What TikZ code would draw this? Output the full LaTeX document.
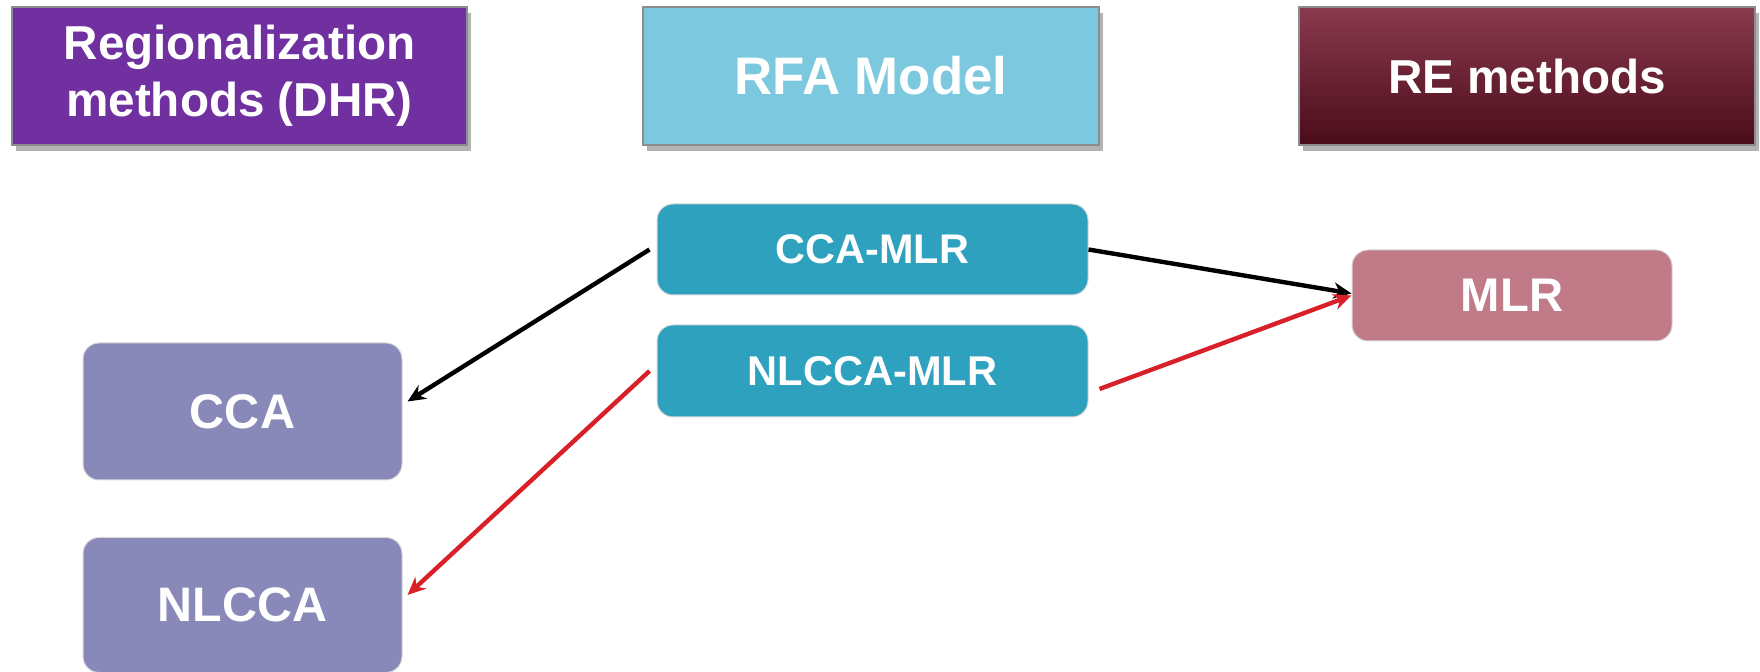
\documentclass[tikz,border=0pt]{standalone}
\usepackage{fontspec}
\setmainfont{Liberation Sans}
\usetikzlibrary{arrows.meta,shadows}
\definecolor{hdrpurple}{HTML}{7030A0}
\definecolor{hdrblue}{HTML}{7BC8DF}
\definecolor{hdrmaroonT}{HTML}{8A3A4E}
\definecolor{hdrmaroonB}{HTML}{4A0C1A}
\definecolor{tealbox}{HTML}{2DA1BE}
\definecolor{rose}{HTML}{C07A88}
\definecolor{lav}{HTML}{8889B8}
\definecolor{arrred}{HTML}{D92029}
\tikzset{
  hdr/.style={rectangle, draw=black!45, line width=0.6pt, text=white, font=\bfseries,
    align=center, minimum width=228pt, minimum height=69pt, inner sep=0pt,
    drop shadow={shadow xshift=2pt, shadow yshift=-3pt, opacity=0.3, fill=black}},
  rbox/.style={rectangle, rounded corners=8pt, draw=black!15, line width=0.5pt, text=white,
    font=\bfseries, align=center, inner sep=0pt},
  blkarr/.style={draw=black, line width=2.2pt, -{Stealth[length=9pt,width=8pt]}},
  redarr/.style={draw=arrred, line width=2.2pt, -{Stealth[length=9pt,width=8pt]}}
}
\begin{document}
\begin{tikzpicture}[x=0.5pt,y=-0.5pt]
\useasboundingbox (0,0) rectangle (1760,672);
% headers
\node[hdr, fill=hdrpurple, minimum width=227.5pt, font=\bfseries\fontsize{23.8}{28.5}\selectfont] (dhr) at (239.5,76) {\raisebox{-1.5pt}{Regionalization}\\\raisebox{-1.5pt}{methods (DHR)}};
\node[hdr, fill=hdrblue, font=\bfseries\fontsize{26.4}{30}\selectfont] (rfa) at (871,76) {RFA Model};
\node[hdr, top color=hdrmaroonT, bottom color=hdrmaroonB, font=\bfseries\fontsize{23.8}{28}\selectfont] (re) at (1527,76) {RE methods};
% middle
\node[rbox, fill=tealbox, minimum width=215.5pt, minimum height=45.5pt, font=\bfseries\fontsize{20.7}{24}\selectfont] (ccamlr) at (872.5,249.5) {CCA-MLR};
\node[rbox, fill=tealbox, minimum width=215.5pt, minimum height=46pt, font=\bfseries\fontsize{20.8}{24}\selectfont] (nlccamlr) at (872.5,371) {NLCCA-MLR};
% right
\node[rbox, fill=rose, minimum width=160pt, minimum height=45.5pt, font=\bfseries\fontsize{23.6}{26}\selectfont] (mlr) at (1512,295.5) {MLR};
% left
\node[rbox, fill=lav, minimum width=159.5pt, minimum height=68.5pt, font=\bfseries\fontsize{24.3}{28}\selectfont] (cca) at (242.5,411.5) {CCA};
\node[rbox, fill=lav, minimum width=159.5pt, minimum height=67.5pt, font=\bfseries\fontsize{24.2}{28}\selectfont] (nlcca) at (242.5,605) {NLCCA};
% arrows
\draw[blkarr] ([xshift=-3.5pt]ccamlr.west) -- ([xshift=2.5pt,yshift=5pt]cca.east);
\draw[redarr] ([xshift=-3.5pt]nlccamlr.west) -- ([xshift=2.5pt,yshift=5pt]nlcca.east);
\draw[blkarr] (ccamlr.east) -- ([yshift=1pt]mlr.west);
\draw[redarr] ([xshift=5.5pt,yshift=-9pt]nlccamlr.east) -- (mlr.west);
\end{tikzpicture}
\end{document}
